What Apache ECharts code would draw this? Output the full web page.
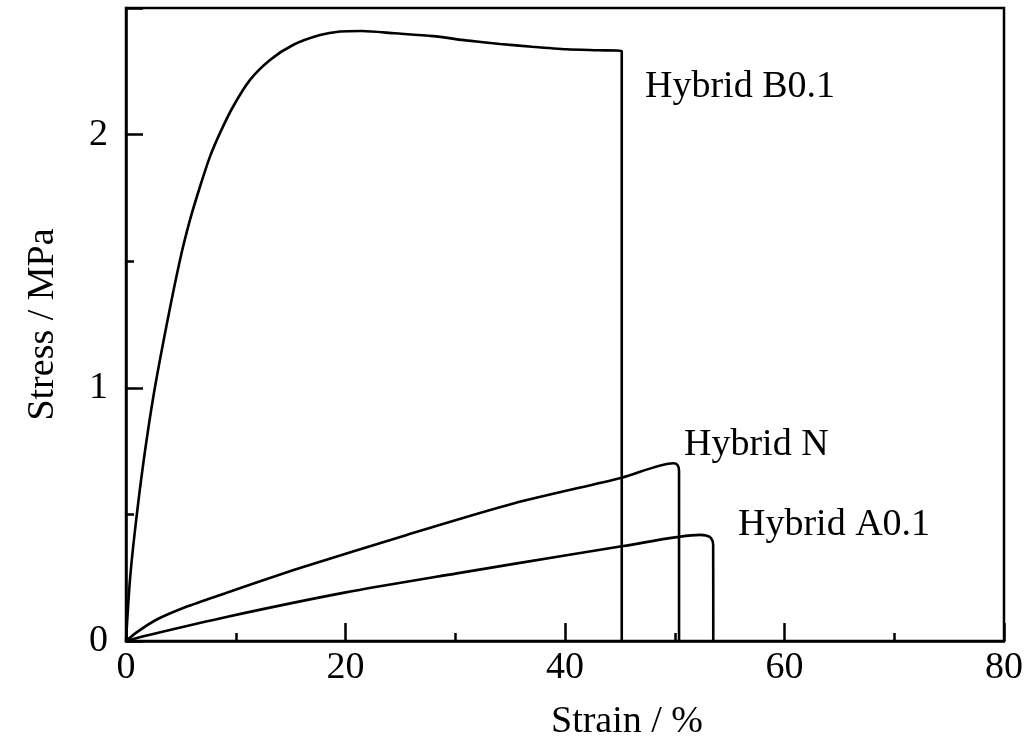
<!DOCTYPE html>
<html>
<head>
<meta charset="utf-8">
<script src="https://cdn.jsdelivr.net/npm/echarts@6/dist/echarts.min.js"></script>
<style>
  html, body { margin: 0; padding: 0; background: #fff; }
  #main { width: 1036px; height: 756px; }
</style>
</head>
<body>
<div id="main"></div>
<script>
// strain (%) / stress (MPa) pairs
var hybridB = [
    [0, 0], [0.36, 0.241], [0.82, 0.438], [1.58, 0.703], [2.49, 0.965],
    [3.71, 1.250], [4.92, 1.505], [5.83, 1.663], [6.74, 1.794],
    [7.65, 1.913], [8.56, 2.006], [9.75, 2.110], [11.30, 2.216], [13.12, 2.295],
    [15.22, 2.354], [17.68, 2.393], [19.5, 2.407], [21.5, 2.409], [24.5, 2.400],
    [27.97, 2.389], [31.0, 2.372], [34.08, 2.358], [37.0, 2.347], [40.16, 2.337],
    [43.0, 2.333], [45.17, 2.330], [45.17, 0]
];
var hybridN = [
    [0, 0], [1.0, 0.035], [2.72, 0.083], [5.5, 0.135], [8.60, 0.182],
    [15.78, 0.287], [25.58, 0.419], [35.38, 0.544], [45.18, 0.645],
    [49.87, 0.702], [50.25, 0.695], [50.39, 0.672], [50.39, 0]
];
var hybridA = [
    [0, 0], [2.0, 0.023], [9.25, 0.096], [20.03, 0.192], [30.15, 0.267],
    [40.27, 0.340], [45.31, 0.375], [52.30, 0.419], [52.85, 0.417],
    [53.3, 0.407], [53.5, 0.379], [53.51, 0]
];
var seriesNames = ['Hybrid B0.1', 'Hybrid N', 'Hybrid A0.1'];
var xTicks = [0, 20, 40, 60, 80];
var yTicks = [0, 1, 2];

var chart = echarts.init(document.getElementById('main'));
var font = 'Liberation Serif';
var labelFont = '38px "Liberation Serif"';

function line(name, data) {
    return {
        name: name,
        type: 'line',
        data: data,
        showSymbol: false,
        smooth: 0.25,
        animation: false,
        lineStyle: { color: '#000', width: 2.6 }
    };
}

var option = {
    backgroundColor: '#fff',
    animation: false,
    grid: {
        left: 126, top: 8, right: 32, bottom: 115,
        show: true, borderColor: '#000', borderWidth: 2.5,
        containLabel: false
    },
    xAxis: [{
        type: 'value', min: xTicks[0], max: xTicks[xTicks.length - 1], interval: 20,
        position: 'bottom',
        name: 'Strain / %', nameLocation: 'middle', nameGap: 62,
        nameTextStyle: { fontFamily: font, fontSize: 38, color: '#000', padding: [0, 0, 0, 124] },
        axisLine: { lineStyle: { color: '#000', width: 2.5 } },
        axisTick: { inside: true, length: 18, lineStyle: { color: '#000', width: 2.5 } },
        axisLabel: { fontFamily: font, fontSize: 38, color: '#000', margin: 8 },
        splitLine: { show: false }
    }, {
        type: 'value', min: 0, max: 80, interval: 10,
        position: 'bottom',
        axisLine: { show: false },
        axisTick: { inside: true, length: 8, lineStyle: { color: '#000', width: 2.5 } },
        axisLabel: { show: false },
        splitLine: { show: false }
    }],
    yAxis: [{
        type: 'value', min: yTicks[0], max: 2.5, interval: 1,
        position: 'left',
        name: 'Stress / MPa', nameLocation: 'middle', nameGap: 64,
        nameTextStyle: { fontFamily: font, fontSize: 38, color: '#000' },
        axisLine: { show: true, lineStyle: { color: '#000', width: 2.5 } },
        axisTick: { inside: true, length: 17, lineStyle: { color: '#000', width: 2.5 } },
        axisLabel: {
            fontFamily: font, fontSize: 38, color: '#000', margin: 18,
            formatter: function (v) { return yTicks.indexOf(v) >= 0 ? String(v) : ''; }
        },
        splitLine: { show: false }
    }, {
        type: 'value', min: 0, max: 2.5, interval: 0.5,
        position: 'left',
        axisLine: { show: false },
        axisTick: { inside: true, length: 8, lineStyle: { color: '#000', width: 2.5 } },
        axisLabel: { show: false },
        splitLine: { show: false }
    }],
    graphic: [
        { type: 'text', left: 645, top: 68, style: { text: seriesNames[0], font: labelFont, fill: '#000' } },
        { type: 'text', left: 684, top: 426, style: { text: seriesNames[1], font: labelFont, fill: '#000' } },
        { type: 'text', left: 738, top: 506, style: { text: seriesNames[2], font: labelFont, fill: '#000' } }
    ],
    series: [
        line(seriesNames[0], hybridB),
        line(seriesNames[1], hybridN),
        line(seriesNames[2], hybridA)
    ]
};

chart.setOption(option);
</script>
</body>
</html>
